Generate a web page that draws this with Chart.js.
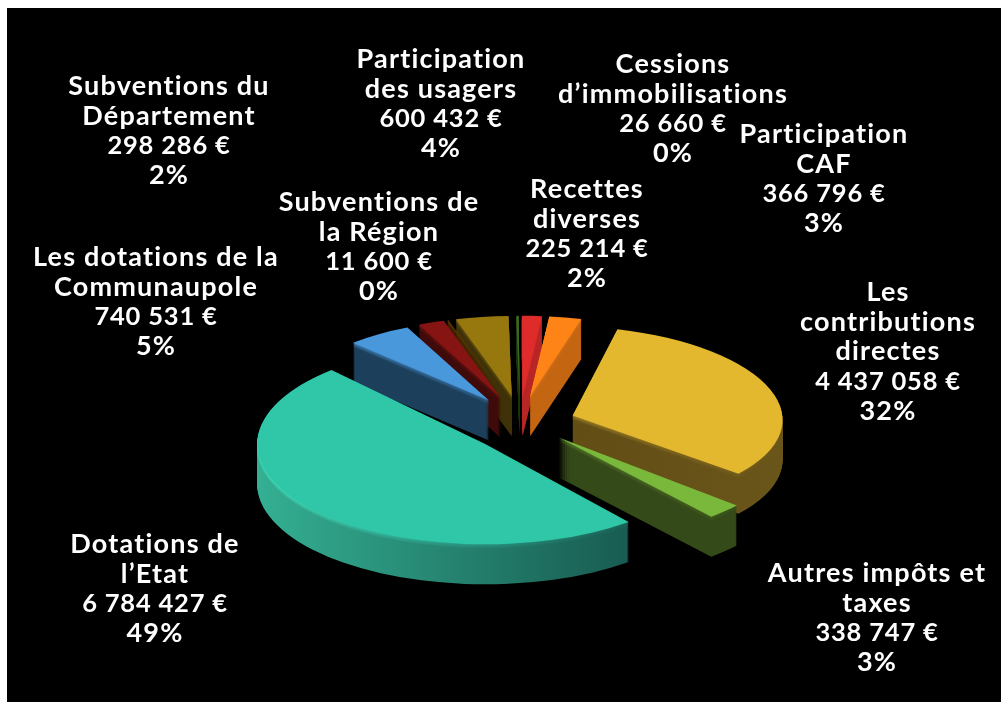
<!DOCTYPE html>
<html lang="fr">
<head>
<meta charset="utf-8">
<title>Recettes</title>
<script src="https://cdn.jsdelivr.net/npm/chart.js@4"></script>
<style>
  html, body { margin: 0; padding: 0; background: #fff; }
  #pie { position: absolute; left: 7px; top: 8px; background: #000; }
</style>
</head>
<body>
<canvas id="pie" width="994" height="694"></canvas>
<script>
const categories = [
  'Les contributions directes', 'Autres impôts et taxes', 'Dotations de l’Etat',
  'Les dotations de la Communaupole', 'Subventions du Département', 'Subventions de la Région',
  'Participation des usagers', 'Cessions d’immobilisations', 'Recettes diverses', 'Participation CAF',
];
const amounts = [4437058, 338747, 6784427, 740531, 298286, 11600, 600432, 26660, 225214, 366796];
const amountLabels = ['4 437 058 €', '338 747 €', '6 784 427 €', '740 531 €', '298 286 €', '11 600 €', '600 432 €', '26 660 €', '225 214 €', '366 796 €'];
const percentLabels = ['32%', '3%', '49%', '5%', '2%', '0%', '4%', '0%', '2%', '3%'];

// how each category name wraps on the picture
const nameLines = [
  ['Les', 'contributions', 'directes'], ['Autres impôts et', 'taxes'], ['Dotations de', 'l’Etat'],
  ['Les dotations de la', 'Communaupole'], ['Subventions du', 'Département'], ['Subventions de', 'la Région'],
  ['Participation', 'des usagers'], ['Cessions', 'd’immobilisations'], ['Recettes', 'diverses'], ['Participation', 'CAF'],
];
// centre x and first line y of each text block, in canvas pixels
const labelX = [881, 870, 148, 149, 162, 372, 434, 666, 580, 817];
const labelY = [284, 565, 536, 249, 78, 194, 51, 56, 181, 126];

const topColors = ['#e3b82f', '#7ab83c', '#2fc7a8', '#4a98dc', '#851412', '#6a3b00', '#96780f', '#3d6b1e', '#e02b2b', '#ff8418'];
const sideLeft = ['#5a4611', '#344a18', '#34b093', '#1c3f5c', '#3f0a0a', '#3a2000', '#3f3208', '#1c3310', '#b82525', '#c46512'];
const sideRight = ['#6a551a', '#344a18', '#124a43', '#1c3f5c', '#3f0a0a', '#3a2000', '#3f3208', '#1c3310', '#b82525', '#c46512'];
const rimLeft = ['#e3b82f', '#7ab83c', '#44ecca', '#4a98dc', '#851412', '#6a3b00', '#96780f', '#3d6b1e', '#e02b2b', '#ff8418'];

const explode = [55, 55, 47, 55, 55, 55, 55, 55, 55, 55];
const explodeY = [55, 55, 82, 65, 65, 65, 65, 65, 65, 65];
const perspective = [0.92, 1.03, 1, 0.86, 0.86, 0.86, 0.86, 0.86, 0.86, 0.86];
const perspectiveY = [0.98, 1.14, 1.1, 0.88, 0.88, 0.88, 0.88, 0.88, 0.88, 0.88];
const shear = [0.05, 0, 0, 0, 0, 0, 0, 0, 0, 0];
const tilt = [0, 0, 1.5, 0, 0, 0, 0, 0, 0, 0];
const paintOrder = [6, 7, 5, 4, 3, 8, 9, 0, 1, 2];

const flatten = 0.4;
const depth = 40;
const bevel = 5;

function sideGradient(ctx, arc, left, right) {
  const gradient = ctx.createLinearGradient(arc.x - arc.outerRadius, 0, arc.x + arc.outerRadius, 0);
  gradient.addColorStop(0, left);
  gradient.addColorStop(1, right);
  return gradient;
}

function drawSlice(ctx, arc, index, drop, fill, alpha) {
  const mid = (arc.startAngle + arc.endAngle) / 2;
  const original = arc.options;
  ctx.save();
  ctx.globalAlpha = alpha;
  ctx.translate(arc.x + Math.cos(mid) * explode[index], arc.y + Math.sin(mid) * explodeY[index] * flatten + drop);
  ctx.scale(perspective[index], flatten * perspectiveY[index]);
  ctx.transform(1, 0, shear[index], 1, 0, 0);
  ctx.rotate(tilt[index] * Math.PI / 180);
  ctx.translate(-arc.x, -arc.y);
  arc.options = Object.assign({}, original, { backgroundColor: fill, borderWidth: 0 });
  arc.draw(ctx);
  arc.options = original;
  ctx.restore();
}

const extrudedPie = {
  id: 'extrudedPie',
  beforeDatasetsDraw(chart) {
    const ctx = chart.ctx;
    const arcs = chart.getDatasetMeta(0).data;
    paintOrder.forEach(index => {
      const arc = arcs[index];
      const side = sideGradient(ctx, arc, sideLeft[index], sideRight[index]);
      const rim = sideGradient(ctx, arc, rimLeft[index], sideRight[index]);
      for (let drop = depth; drop > 0; drop -= 1) {
        drawSlice(ctx, arc, index, drop, side, 1);
        if (drop < bevel) {
          drawSlice(ctx, arc, index, drop, rim, 1 - drop / bevel);
        }
      }
      drawSlice(ctx, arc, index, 0, topColors[index], 1);
    });
    return false;
  },
};

const blockLabels = {
  id: 'blockLabels',
  afterDraw(chart) {
    const ctx = chart.ctx;
    ctx.save();
    ctx.fillStyle = '#fff';
    ctx.textAlign = 'center';
    ctx.textBaseline = 'middle';
    const wordFont = () => {
      ctx.font = '700 27px Lato';
      ctx.letterSpacing = '1.2px';
    };
    const amountFont = () => {
      ctx.font = '700 25.5px Lato';
      ctx.letterSpacing = '0.8px';
    };
    categories.forEach((name, index) => {
      let row = 0;
      const put = line => {
        ctx.fillText(line, labelX[index], labelY[index] + row * 29.8);
        row += 1;
      };
      wordFont();
      nameLines[index].forEach(put);
      amountFont();
      put(amountLabels[index]);
      wordFont();
      put(percentLabels[index]);
    });
    ctx.restore();
  },
};

new Chart(document.getElementById('pie'), {
  type: 'pie',
  data: {
    labels: categories,
    datasets: [{
      data: amounts,
      backgroundColor: topColors,
      borderWidth: 0,
      clip: false,
    }],
  },
  options: {
    responsive: false,
    animation: false,
    events: [],
    rotation: 15.2,
    radius: 228,
    layout: { padding: { left: 32, top: 134 } },
    plugins: {
      legend: { display: false },
      tooltip: { enabled: false },
    },
  },
  plugins: [extrudedPie, blockLabels],
});
</script>
</body>
</html>
